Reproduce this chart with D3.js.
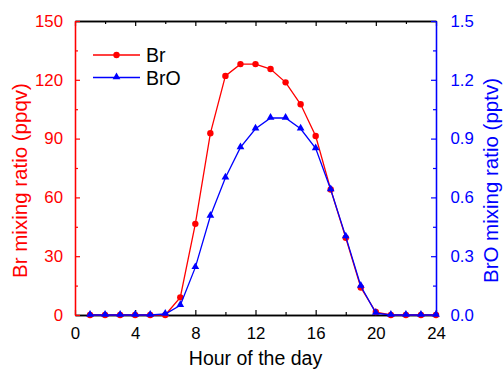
<!DOCTYPE html>
<html>
<head>
<meta charset="utf-8">
<script src="https://cdn.jsdelivr.net/npm/d3@7"></script>
<style>
  body { margin: 0; background: #fff; }
  svg { font-family: "Liberation Sans", Arial, sans-serif; }
</style>
</head>
<body>
<svg id="chart" width="503" height="369"></svg>
<script>
// data
var hours = [1,2,3,4,5,6,7,8,9,10,11,12,13,14,15,16,17,18,19,20,21,22,23,24];
var br = [0,0,0,0,0,0,9,46.5,92.7,122,128,128,125.5,118.7,107.5,91.3,64,39.4,14,1.5,0,0,0,0];
var bro = [0,0,0,0,0,0.005,0.05,0.243,0.505,0.70,0.855,0.95,1.005,1.005,0.95,0.85,0.64,0.40,0.148,0.01,0,0,0,0];
var xTicks = [0,4,8,12,16,20,24];
var leftTicks = [0,30,60,90,120,150];
var rightTicks = [0,0.3,0.6,0.9,1.2,1.5];

var svg = d3.select("#chart");
var plotLeft = 75, plotRight = 436, plotTop = 21, plotBottom = 315;

var x = d3.scaleLinear().domain([0,24]).range([plotLeft,plotRight]);
var yL = d3.scaleLinear().domain([0,150]).range([plotBottom,plotTop]);
var yR = d3.scaleLinear().domain([0,1.5]).range([plotBottom,plotTop]);

//bottom axis, ticks pointing inward
var gx = svg.append("g").attr("transform","translate(0," + plotBottom + ")")
  .call(d3.axisBottom(x).tickValues(xTicks).tickSize(-5).tickPadding(12).tickSizeOuter(0));
svg.append("g").attr("transform","translate(0," + plotBottom + ")")
  .call(d3.axisBottom(x).tickValues(d3.range(2,24,4)).tickSize(-3).tickFormat("").tickSizeOuter(0));
//top axis
svg.append("g").attr("transform","translate(0," + plotTop + ")")
  .call(d3.axisTop(x).tickValues(xTicks).tickSize(-5).tickFormat("").tickSizeOuter(0));
svg.append("g").attr("transform","translate(0," + plotTop + ")")
  .call(d3.axisTop(x).tickValues(d3.range(2,24,4)).tickSize(-3).tickFormat("").tickSizeOuter(0));

//left axis (red)
var gl = svg.append("g").attr("transform","translate(" + plotLeft + ",0)")
  .call(d3.axisLeft(yL).tickValues(leftTicks).tickSize(-5).tickPadding(12).tickSizeOuter(0));
svg.append("g").attr("class","minorL").attr("transform","translate(" + plotLeft + ",0)")
  .call(d3.axisLeft(yL).tickValues([15,45,75,105,135]).tickSize(-3).tickFormat("").tickSizeOuter(0));
//right axis (blue)
var gr = svg.append("g").attr("transform","translate(" + plotRight + ",0)")
  .call(d3.axisRight(yR).tickValues(rightTicks).tickSize(-5).tickPadding(14.5).tickFormat(d3.format(".1f")).tickSizeOuter(0));
svg.append("g").attr("class","minorR").attr("transform","translate(" + plotRight + ",0)")
  .call(d3.axisRight(yR).tickValues([0.15,0.45,0.75,1.05,1.35]).tickSize(-3).tickFormat("").tickSizeOuter(0));

svg.selectAll(".domain").attr("stroke","#000").attr("stroke-width",1.3);
svg.selectAll(".tick line").attr("stroke","#000").attr("stroke-width",1.2);
svg.selectAll(".tick text").attr("font-size",16.8).attr("font-family","Liberation Sans, Arial, sans-serif");
gl.selectAll(".domain, .tick line").attr("stroke","#ff0000");
svg.select(".minorL").selectAll(".domain, .tick line").attr("stroke","#ff0000");
gl.selectAll(".tick text").attr("fill","#ff0000");
gr.selectAll(".domain, .tick line").attr("stroke","#0000ff");
svg.select(".minorR").selectAll(".domain, .tick line").attr("stroke","#0000ff");
gr.selectAll(".tick text").attr("fill","#0000ff");
gx.selectAll(".tick text").attr("fill","#000");

//lines
var lineBr = d3.line().x(function(d,i){return x(hours[i]);}).y(function(d){return yL(d);});
var lineBrO = d3.line().x(function(d,i){return x(hours[i]);}).y(function(d){return yR(d);});

svg.append("path").datum(br).attr("d",lineBr).attr("fill","none").attr("stroke","#ff0000").attr("stroke-width",1.3);
svg.selectAll(".brdot").data(br).enter().append("circle")
  .attr("cx",function(d,i){return x(hours[i]);}).attr("cy",function(d){return yL(d);})
  .attr("r",3.2).attr("fill","#ff0000");

svg.append("path").datum(bro).attr("d",lineBrO).attr("fill","none").attr("stroke","#0000ff").attr("stroke-width",1.3);
var tri = d3.symbol().type(d3.symbolTriangle).size(26);
svg.selectAll(".brotri").data(bro).enter().append("path")
  .attr("d",tri)
  .attr("transform",function(d,i){return "translate(" + x(hours[i]) + "," + (yR(d) - 0.5) + ")";})
  .attr("fill","#0000ff");

//legend
svg.append("line").attr("x1",93).attr("x2",140).attr("y1",55).attr("y2",55).attr("stroke","#ff0000").attr("stroke-width",1.3);
svg.append("circle").attr("cx",116.5).attr("cy",55).attr("r",3.2).attr("fill","#ff0000");
svg.append("text").attr("x",146).attr("y",62).attr("font-size",19.5).text("Br");
svg.append("line").attr("x1",93).attr("x2",140).attr("y1",77.5).attr("y2",77.5).attr("stroke","#0000ff").attr("stroke-width",1.3);
svg.append("path").attr("d",tri).attr("transform","translate(116.5,77)").attr("fill","#0000ff");
svg.append("text").attr("x",146).attr("y",85).attr("font-size",19.5).text("BrO");

//axis titles
svg.append("text").attr("x",(plotLeft+plotRight)/2).attr("y",365).attr("text-anchor","middle")
  .attr("font-size",19.5).text("Hour of the day");
svg.append("text").attr("transform","translate(27,180.5) rotate(-90)")
  .attr("text-anchor","middle").attr("font-size",20.5).attr("fill","#ff0000").text("Br mixing ratio (ppqv)");
svg.append("text").attr("transform","translate(497.5,180.5) rotate(-90)")
  .attr("text-anchor","middle").attr("font-size",20.5).attr("fill","#0000ff").text("BrO mixing ratio (pptv)");
</script>
</body>
</html>
